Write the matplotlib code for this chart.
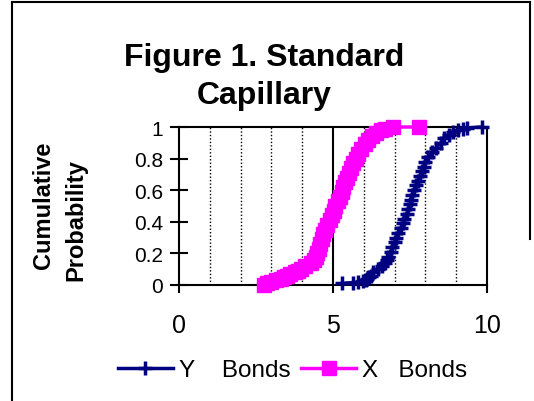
import matplotlib
matplotlib.use('Agg')
import matplotlib.pyplot as plt
from matplotlib.lines import Line2D

plt.rcParams['font.family'] = ['Liberation Sans', 'DejaVu Sans']

# X Bonds (magenta squares) - cumulative curve
x_bonds_val = [2.75, 2.85, 3.0, 3.15, 3.3, 3.4, 3.5, 3.62, 3.75, 3.85, 3.95,
               4.1, 4.28, 4.38, 4.44, 4.48, 4.53, 4.58, 4.63, 4.68, 4.75,
               4.82, 4.9, 4.96, 5.02, 5.08, 5.15, 5.22, 5.28, 5.33, 5.38,
               5.45, 5.52, 5.58, 5.66, 5.74, 5.82, 5.92, 6.03, 6.15, 6.25,
               6.38, 6.55, 6.7, 6.95, 7.8]
x_bonds_prob = [0.0, 0.01, 0.02, 0.03, 0.04, 0.05, 0.06, 0.07, 0.08, 0.09, 0.10,
                0.12, 0.14, 0.16, 0.18, 0.20, 0.23, 0.26, 0.29, 0.32, 0.35,
                0.38, 0.41, 0.44, 0.47, 0.50, 0.53, 0.56, 0.59, 0.62, 0.65,
                0.68, 0.71, 0.74, 0.77, 0.80, 0.83, 0.86, 0.89, 0.92, 0.94,
                0.96, 0.98, 0.99, 1.0, 1.0]

# Y Bonds (navy plus markers)
y_bonds_val = [5.3, 5.66, 5.82, 5.98, 6.08, 6.12, 6.17, 6.22, 6.3, 6.45, 6.58,
               6.68, 6.75, 6.8, 6.87, 6.93, 7.0, 7.06, 7.12, 7.2, 7.26,
               7.32, 7.39, 7.45, 7.5, 7.54, 7.58, 7.62, 7.7, 7.76, 7.82,
               7.88, 7.94, 8.0, 8.1, 8.22, 8.35, 8.5, 8.62, 8.75, 8.9,
               9.07, 9.23, 9.36, 9.85]
y_bonds_prob = [0.01, 0.015, 0.02, 0.025, 0.03, 0.04, 0.05, 0.06, 0.08, 0.10, 0.12,
                0.14, 0.16, 0.18, 0.21, 0.24, 0.27, 0.30, 0.33, 0.36, 0.39,
                0.42, 0.45, 0.48, 0.51, 0.54, 0.57, 0.60, 0.63, 0.66, 0.69,
                0.72, 0.75, 0.78, 0.81, 0.84, 0.87, 0.90, 0.93, 0.95, 0.97,
                0.98, 0.99, 0.995, 1.0]

xticks = [0, 5, 10]
yticks = [0, 0.2, 0.4, 0.6, 0.8, 1]
ytick_labels = ['0', '0.2', '0.4', '0.6', '0.8', '1']

fig = plt.figure(figsize=(5.34, 4.02), dpi=100)
ax = fig.add_axes([179/534, 1 - 286/402, 308/534, 158/402])

ax.plot(y_bonds_val, y_bonds_prob, color='#000080', lw=2.5, marker='+',
        ms=10, mew=2.5, clip_on=False, zorder=3, label='Y    Bonds')
ax.plot(x_bonds_val, x_bonds_prob, color='#FF00FF', lw=2.5, marker='s',
        ms=10.5, mec='#FF00FF', clip_on=False, zorder=4, label='X   Bonds')

ax.set_xlim(0, 10)
ax.set_ylim(0, 1)
ax.set_xticks(xticks)
ax.set_xticklabels([str(t) for t in xticks], fontsize=18)
ax.set_yticks(yticks)
ax.set_yticklabels(ytick_labels, fontsize=15)
ax.tick_params(axis='y', direction='inout', length=13, width=1.5, pad=5)
ax.tick_params(axis='x', direction='out', length=6, width=1.5, pad=14)
for s in ax.spines.values():
    s.set_linewidth(1.5)

# gridlines: dotted every 1, solid at 5
for g in range(1, 10):
    if g == 5:
        ax.axvline(g, color='black', lw=1.5, zorder=1)
    else:
        ax.axvline(g, color='black', lw=1, ls=(0, (1, 1.5)), zorder=1)

fig.text(264/534, 1 - 58/402, 'Figure 1. Standard', ha='center', va='center',
         fontsize=23, fontweight='bold')
fig.text(264/534, 1 - 96/402, 'Capillary', ha='center', va='center',
         fontsize=23, fontweight='bold')
fig.text(44/534, 1 - 205/402, 'Cumulative', rotation=90, ha='center',
         va='center', fontsize=17, fontweight='bold')
fig.text(76/534, 1 - 220/402, 'Probability', rotation=90, ha='center',
         va='center', fontsize=17, fontweight='bold')

fig.legend(loc='center left', bbox_to_anchor=(108/534, 1 - 371/402), ncol=2,
           frameon=False, fontsize=17.5, handlelength=2.26, handletextpad=0.25,
           columnspacing=0.45, borderaxespad=0)

# outer border
fig.add_artist(Line2D([12/534, 12/534], [0, 1 - 3/402], color='black', lw=1.5))
fig.add_artist(Line2D([12/534, 530/534], [1 - 3/402, 1 - 3/402], color='black', lw=1.5))
fig.add_artist(Line2D([530/534, 530/534], [1 - 3/402, 1 - 240/402], color='black', lw=1.5))

fig.savefig('out.png', dpi=100)
